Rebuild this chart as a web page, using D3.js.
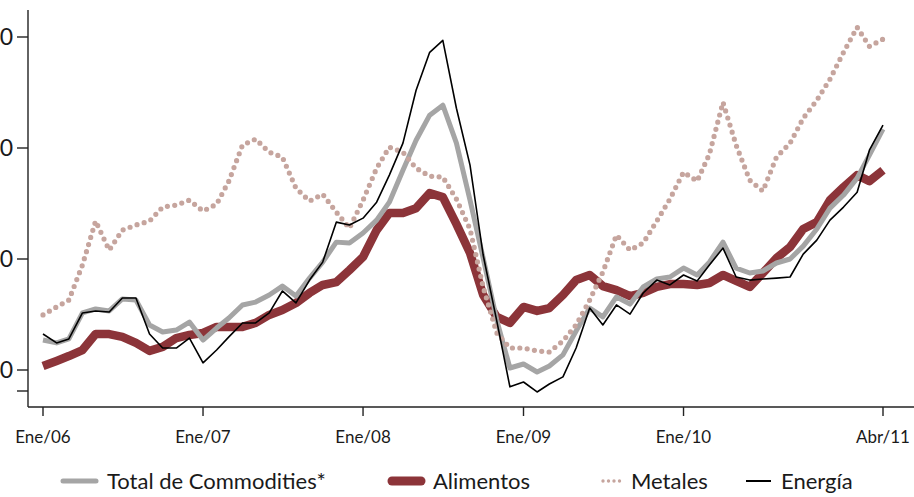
<!DOCTYPE html>
<html>
<head>
<meta charset="utf-8">
<script src="https://cdn.jsdelivr.net/npm/d3@7"></script>
<style>
  body { margin: 0; background: #fff; }
  svg { display: block; font-family: Lato, "Open Sans", sans-serif; }
</style>
</head>
<body>
<svg id="chart" width="914" height="497"></svg>
<script>
// monthly, Ene/06 .. Abr/11
var months = d3.timeMonth.range(new Date(2006, 0, 1), new Date(2011, 4, 1));

var total = [113.5,112.2,114.0,125.7,127.5,126.6,132.0,131.5,120.3,117.1,118.0,121.6,
  113.5,118.9,123.4,129.3,130.6,133.8,137.8,133.3,141.4,148.6,157.6,157.2,
  161.7,167.5,175.6,190.0,203.5,214.8,219.3,202.2,176.5,150.4,122.5,100.9,
  102.7,99.1,101.8,106.8,117.6,127.9,123.9,132.9,129.7,137.4,141.0,141.9,
  145.9,142.8,148.6,157.6,145.9,143.7,144.6,148.2,150.0,155.8,163.5,172.9,
  178.8,186.4,196.8,208.5];

var alimentos = [101.8,104.1,106.3,109.0,116.2,116.2,114.9,112.2,108.6,110.4,114.4,115.8,
  116.7,119.4,119.4,119.4,121.2,124.8,127.0,130.2,134.7,138.3,139.6,145.0,
  150.9,163.0,170.7,170.7,172.9,179.7,177.9,165.7,152.7,133.8,123.9,121.2,
  128.4,126.6,127.9,133.8,140.5,142.8,137.8,136.0,133.3,134.7,137.4,138.7,
  138.7,138.3,139.2,142.8,140.1,137.4,143.7,150.4,155.4,163.5,166.6,176.5,
  182.4,187.8,185.1,190.0];

var metales = [124.8,128.4,131.5,147.3,167.1,154.0,163.0,165.3,167.1,173.4,174.3,176.5,
  171.6,174.7,185.1,201.3,204.0,198.1,195.9,181.9,176.1,179.2,171.1,163.9,
  176.5,190.9,200.4,198.1,190.9,187.3,186.9,177.0,163.5,137.4,116.7,109.9,
  109.9,108.6,108.1,113.1,120.3,131.5,144.1,160.8,154.0,157.2,167.1,177.0,
  189.1,185.1,197.2,220.6,201.3,185.5,180.6,195.9,202.2,213.4,221.5,231.0,
  243.1,254.4,245.8,249.0];

var energia = [116.2,112.2,114.0,125.7,126.6,126.1,132.4,132.4,116.2,109.9,109.9,114.4,
  103.2,109.0,114.9,121.2,121.2,125.7,135.6,130.2,140.5,148.6,166.6,165.3,
  168.4,175.6,187.8,202.2,226.0,243.1,248.5,217.9,192.3,151.8,122.1,92.4,
  94.6,90.1,93.7,96.9,109.9,127.9,120.3,129.3,125.2,134.7,140.5,138.3,
  142.8,140.1,147.3,154.9,141.9,140.5,141.0,141.4,141.9,152.2,158.5,167.5,
  173.4,180.1,199.0,210.3];

var yTicks = [100, 150, 200, 250];
var xTicks = [new Date(2006,0,1), new Date(2007,0,1), new Date(2008,0,1),
              new Date(2009,0,1), new Date(2010,0,1), new Date(2011,3,1)];
var xTickLabels = ["Ene/06", "Ene/07", "Ene/08", "Ene/09", "Ene/10", "Abr/11"];

var series = [
  {name: "Alimentos", data: alimentos, color: "#8c3439", width: 8.5, dash: null},
  {name: "Total de Commodities*", data: total, color: "#a5a5a5", width: 5, dash: null},
  {name: "Metales", data: metales, color: "#c6a59e", width: 5.2, dash: "0 7.4"},
  {name: "Energía", data: energia, color: "#000000", width: 1.6, dash: null}
];

var svg = d3.select("#chart");

var x = d3.scaleTime()
    .domain([new Date(2006,0,1), new Date(2011,3,1)])
    .range([43, 883]);

var y = d3.scaleLinear()
    .domain([100, 250])
    .range([370, 37]);

var axisX = 28, axisY = 407;

// y axis (labels run off the left edge, as in the original)
var gy = svg.append("g").attr("transform", "translate(" + axisX + ",0)");
gy.append("line").attr("x1", 0).attr("x2", 0).attr("y1", 10).attr("y2", axisY)
    .attr("stroke", "#222").attr("stroke-width", 1.4);
gy.selectAll(".tk").data(yTicks.concat([y.invert(391)])).enter().append("line")
    .attr("x1", -11).attr("x2", 0)
    .attr("y1", function(d) { return y(d); }).attr("y2", function(d) { return y(d); })
    .attr("stroke", "#222").attr("stroke-width", 1.4);
gy.selectAll("text").data(yTicks).enter().append("text")
    .attr("x", -15).attr("y", function(d) { return y(d); })
    .attr("dy", "0.35em").attr("text-anchor", "end")
    .attr("font-size", 23).attr("fill", "#1a1a1a")
    .text(function(d) { return d; });

// x axis
var gx = svg.append("g").attr("transform", "translate(0," + axisY + ")");
gx.append("line").attr("x1", axisX).attr("x2", 914).attr("y1", 0).attr("y2", 0)
    .attr("stroke", "#222").attr("stroke-width", 1.4);
gx.selectAll(".tk").data(xTicks).enter().append("line")
    .attr("x1", function(d) { return x(d); }).attr("x2", function(d) { return x(d); })
    .attr("y1", 0).attr("y2", 9)
    .attr("stroke", "#222").attr("stroke-width", 1.4);
gx.selectAll("text").data(xTicks).enter().append("text")
    .attr("x", function(d) { return x(d); }).attr("y", 36)
    .attr("text-anchor", "middle")
    .attr("font-size", 17).attr("fill", "#1a1a1a")
    .text(function(d, i) { return xTickLabels[i]; });

// lines
var line = d3.line()
    .x(function(d, i) { return x(months[i]); })
    .y(function(d) { return y(d); });

svg.selectAll(".serie").data(series).enter().append("path")
    .attr("class", "serie")
    .attr("d", function(s) { return line(s.data); })
    .attr("fill", "none")
    .attr("stroke", function(s) { return s.color; })
    .attr("stroke-width", function(s) { return s.width; })
    .attr("stroke-linejoin", "round")
    .attr("stroke-linecap", function(s) { return s.dash ? "round" : "butt"; })
    .attr("stroke-dasharray", function(s) { return s.dash; });

// legend
var legend = [
  {name: "Total de Commodities*", color: "#a5a5a5", width: 5, dash: null, x0: 63, x1: 96, tx: 107},
  {name: "Alimentos", color: "#8c3439", width: 9, dash: null, x0: 392, x1: 421, tx: 433},
  {name: "Metales", color: "#c6a59e", width: 3.4, dash: "0 5.5", x0: 603, x1: 620, tx: 631},
  {name: "Energía", color: "#000000", width: 2, dash: null, x0: 746, x1: 771, tx: 781}
];
var lg = svg.append("g").attr("transform", "translate(0,481)");
lg.selectAll("line").data(legend).enter().append("line")
    .attr("x1", function(d) { return d.x0; }).attr("x2", function(d) { return d.x1; })
    .attr("y1", 0).attr("y2", 0)
    .attr("stroke", function(d) { return d.color; })
    .attr("stroke-width", function(d) { return d.width; })
    .attr("stroke-linecap", function(d) { return d.name == "Energía" ? "butt" : "round"; })
    .attr("stroke-dasharray", function(d) { return d.dash; });
lg.selectAll("text").data(legend).enter().append("text")
    .attr("x", function(d) { return d.tx; }).attr("y", 0)
    .attr("dy", "0.36em")
    .attr("font-size", 22).attr("fill", "#1a1a1a")
    .text(function(d) { return d.name; });
</script>
</body>
</html>
